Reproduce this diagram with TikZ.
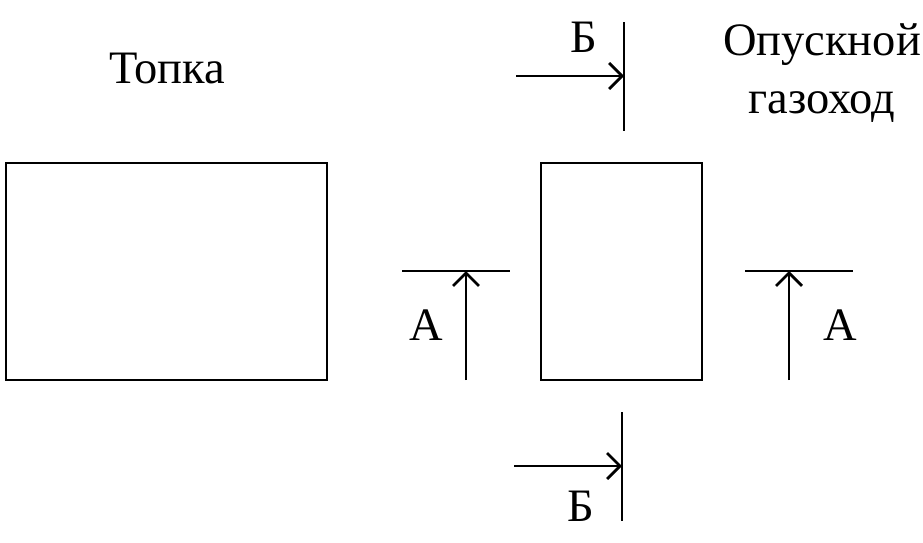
\documentclass[tikz,border=0pt]{standalone}
\usepackage{fontspec}
\setmainfont{Liberation Serif}
\usetikzlibrary{arrows.meta}
\tikzset{
  lbl/.style={anchor=base,inner sep=0pt,font=\fontsize{46.5}{58}\selectfont},
  box/.style={draw,line width=2.7pt,inner sep=0pt},
  cut/.style={line width=2.7pt},
  arr/.style={line width=2.7pt,-{Straight Barb[length=13pt,width=26pt]}}
}
\begin{document}
\begin{tikzpicture}[x=1pt,y=-1pt]
\useasboundingbox (0,0) rectangle (923,542);
% furnace and downcomer
\node[box,minimum width=321pt,minimum height=217pt] (furnace) at (166.5,271.5) {};
\node[box,minimum width=161pt,minimum height=217pt] (duct) at (621.5,271.5) {};
\node[lbl] (t1) at (167,83) {Топка};
\node[lbl,align=center] (t2) at (822,113) {Опускной\\газоход};

% section B
\coordinate (B1a) at (624,22);
\coordinate (B1b) at (624,131);
\coordinate (B1s) at (516,76);
\coordinate (B1e) at (624,76);
\draw[cut] (B1a) -- (B1b);
\draw[arr] (B1s) -- (B1e);
\node[lbl] (B1) at (584,52) {Б};

\coordinate (B2a) at (622,412);
\coordinate (B2b) at (622,521);
\coordinate (B2s) at (514,466);
\coordinate (B2e) at (622,466);
\draw[cut] (B2a) -- (B2b);
\draw[arr] (B2s) -- (B2e);
\node[lbl] (B2) at (581,521) {Б};

% section A
\coordinate (A1a) at (402,271);
\coordinate (A1b) at (510,271);
\coordinate (A1s) at (466,380);
\coordinate (A1e) at (466,271);
\draw[cut] (A1a) -- (A1b);
\draw[arr] (A1s) -- (A1e);
\node[lbl] (A1) at (426,340) {А};

\coordinate (A2a) at (745,271);
\coordinate (A2b) at (853,271);
\coordinate (A2s) at (789,380);
\coordinate (A2e) at (789,271);
\draw[cut] (A2a) -- (A2b);
\draw[arr] (A2s) -- (A2e);
\node[lbl] (A2) at (840,340) {А};
\end{tikzpicture}
\end{document}
